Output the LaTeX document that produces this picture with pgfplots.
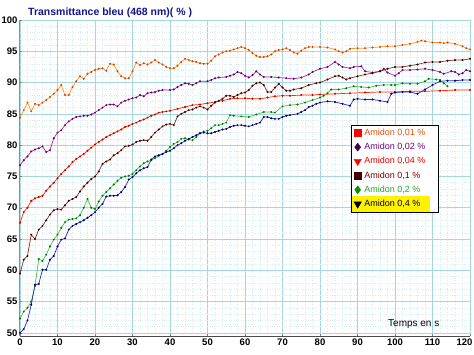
\documentclass[border=0pt]{standalone}
\usepackage{fontspec}
\setmainfont{Liberation Sans}
\usepackage{pgfplots}
\pgfplotsset{compat=1.18}
\definecolor{orL}{RGB}{255,150,40}
\definecolor{orD}{RGB}{215,70,0}
\definecolor{puL}{RGB}{165,40,175}
\definecolor{puD}{RGB}{100,0,100}
\definecolor{reL}{RGB}{255,40,0}
\definecolor{reD}{RGB}{200,0,0}
\definecolor{brL}{RGB}{140,40,20}
\definecolor{brD}{RGB}{60,0,0}
\definecolor{grL}{RGB}{70,195,70}
\definecolor{grD}{RGB}{0,120,0}
\definecolor{blL}{RGB}{40,40,200}
\definecolor{blD}{RGB}{0,0,90}
\definecolor{gridM}{RGB}{165,215,225}
\definecolor{gridm}{RGB}{215,236,242}
\definecolor{titc}{RGB}{20,20,140}
\definecolor{t1}{RGB}{235,80,10}
\definecolor{t2}{RGB}{110,0,130}
\definecolor{t3}{RGB}{240,0,0}
\definecolor{t4}{RGB}{128,0,0}
\definecolor{t5}{RGB}{40,165,40}
\definecolor{m2}{RGB}{70,0,70}
\definecolor{m4}{RGB}{70,0,0}
\definecolor{m5}{RGB}{0,150,0}
\definecolor{m6}{RGB}{0,0,50}
\begin{document}
\begin{tikzpicture}
\useasboundingbox (-20pt,-18pt) rectangle (454pt,336pt);
\begin{axis}[
  scale only axis, width=450pt, height=316pt,
  xmin=0, xmax=120, ymin=49.5, ymax=100,
  axis x line*=bottom, axis y line*=left,
  x axis line style={color=black!70, line width=0.8pt},
  y axis line style={color=black!45, line width=1pt},
  xtick={0,10,...,120}, ytick={50,55,...,100},
  xticklabels={0,10,20,30,40,50,60,70,80,90,100,110,{\hspace*{-11pt}120}},
  minor x tick num=4, minor y tick num=4,
  major tick length=2pt, minor tick length=0pt,
  tick style={color=black!50},
  grid=both,
  major grid style={color=gridM, line width=0.6pt},
  minor grid style={color=gridm, line width=0.4pt, dotted},
  /pgf/number format/assume math mode=true,
  ticklabel style={font=\fontsize{9.5}{10}\selectfont\bfseries},
  xticklabel style={yshift=1pt},
  yticklabel style={xshift=1pt},
  legend cell align=left,
  legend style={at={(0.7375,0.667)}, anchor=north west, draw=none, fill=none,
    font=\fontsize{9}{10}\selectfont, inner xsep=2pt, inner ysep=1.5pt,
    row sep=2.2pt, nodes={inner xsep=3pt}},
  legend image code/.code={\draw[#1] (0.17cm,0cm) -- plot coordinates {(0.17cm,0cm)};},
]
\fill[white] (axis cs:88.5,69.3) rectangle (axis cs:111.5,83.2);
\fill[yellow] (axis cs:88.5,69.3) rectangle (axis cs:109.3,71.8);
\draw[black, line width=0.8pt] (axis cs:88.5,69.3) rectangle (axis cs:111.5,83.2);

% Amidon 0,01 %
\addplot[orL, line width=0.7pt, mark=*, mark size=0.6pt, mark options={draw=orD, fill=orD}, forget plot] coordinates {
(0,84.4)(1,85.6)(2,86.8)(3,85.4)(4,86.6)(5,86.4)(6,86.8)(7,87.2)(8,87.7)(9,88.2)(10,88.8)(11,89.6)(12,88.0)(13,88.0)(14,89.3)(15,90.2)(16,91.0)(17,90.6)(18,91.4)(19,91.7)(20,92.0)(21,92.2)(22,92.3)(23,91.9)(24,93.0)(25,92.9)(26,91.8)(27,91.0)(28,90.7)(29,90.7)(30,91.8)(31,93.2)(32,92.8)(33,93.1)(34,92.9)(35,93.2)(36,93.6)(37,93.2)(38,92.9)(39,92.5)(40,92.3)(41,92.3)(42,92.7)(43,93.3)(44,93.8)(45,93.6)(46,93.4)(47,93.3)(48,93.1)(49,93.0)(50,93.0)(51,93.5)(52,94.2)(53,94.5)(54,94.8)(55,95.0)(56,95.1)(57,95.3)(58,95.5)(59,95.7)(60,95.5)(61,95.2)(62,94.7)(63,94.3)(64,94.1)(65,94.1)(66,94.2)(67,94.5)(68,95.0)(69,95.2)(70,95.3)(71,95.5)(72,95.2)(73,94.8)(74,94.6)(75,95.1)(76,95.5)(77,95.7)(78,95.7)(80,95.7)(82,95.6)(84,95.3)(85,95.0)(86,94.8)(87,95.0)(88,95.4)(90,95.5)(92,95.5)(94,95.6)(96,95.7)(98,95.8)(100,95.8)(102,96.0)(104,96.2)(106,96.5)(107,96.7)(108,96.6)(110,96.4)(112,96.4)(113,96.3)(114,96.4)(116,96.2)(118,95.8)(119,95.5)(120,95.3)};

% Amidon 0,02 %
\addplot[puL, line width=0.7pt, mark=*, mark size=0.6pt, mark options={draw=puD, fill=puD}, forget plot] coordinates {
(0,76.8)(1,77.6)(2,78.2)(3,79.0)(4,79.3)(5,79.5)(6,79.8)(7,78.9)(8,79.2)(9,81.1)(10,82.0)(11,82.4)(12,83.2)(13,83.8)(14,84.2)(15,84.5)(16,84.6)(17,84.7)(18,84.7)(19,84.9)(20,85.2)(21,85.6)(22,86.0)(23,86.4)(24,86.5)(25,86.5)(26,86.2)(27,86.8)(28,87.1)(29,87.3)(30,87.5)(31,87.6)(32,88.0)(33,87.8)(34,88.3)(35,88.4)(36,88.5)(37,88.7)(38,88.8)(40,88.8)(41,88.9)(42,89.3)(43,89.6)(44,89.9)(45,89.8)(46,89.6)(47,89.9)(48,90.2)(50,90.2)(51,90.4)(52,90.7)(53,90.8)(55,90.9)(56,91.1)(57,91.3)(58,91.7)(59,91.5)(60,91.1)(61,90.8)(62,91.2)(63,91.8)(64,91.3)(65,90.9)(67,90.9)(69,90.8)(71,90.7)(73,90.6)(75,90.8)(77,91.3)(78,91.7)(80,92.2)(82,92.5)(84,93.3)(85,92.9)(86,92.5)(88,92.3)(89,92.5)(91,92.6)(92,91.8)(94,91.6)(96,91.8)(97,92.2)(98,91.6)(100,91.1)(101,91.5)(102,92.0)(104,92.0)(106,92.1)(108,92.2)(110,92.0)(112,91.7)(113,91.4)(115,91.8)(116,91.7)(117,91.3)(118,91.5)(119,92.0)(120,91.8)};

% Amidon 0,04 %
\addplot[reL, line width=0.7pt, mark=*, mark size=0.6pt, mark options={draw=reD, fill=reD}, forget plot] coordinates {
(0,67.6)(1,69.3)(2,70.0)(3,71.1)(4,71.5)(5,71.7)(6,71.9)(7,72.7)(8,73.4)(9,74.0)(10,74.7)(11,75.4)(12,76.0)(13,76.6)(14,77.3)(15,77.8)(16,78.2)(17,78.6)(18,79.1)(19,79.6)(20,80.1)(21,80.5)(22,80.9)(23,81.3)(24,81.6)(25,81.9)(26,82.2)(27,82.5)(28,82.9)(29,83.1)(30,83.4)(31,83.6)(32,83.9)(33,84.1)(34,84.4)(35,84.7)(36,84.9)(37,85.2)(38,85.3)(39,85.4)(40,85.5)(42,85.8)(44,86.1)(46,86.4)(48,86.5)(50,86.7)(52,86.9)(54,87.1)(56,87.4)(58,87.5)(60,87.5)(62,87.4)(64,87.4)(66,87.6)(68,87.8)(70,87.9)(72,87.9)(75,88.0)(78,88.0)(80,88.1)(84,88.2)(88,88.3)(92,88.4)(96,88.5)(100,88.5)(104,88.6)(108,88.6)(112,88.7)(116,88.8)(120,88.8)};

% Amidon 0,1 %
\addplot[brL, line width=0.7pt, mark=*, mark size=0.6pt, mark options={draw=brD, fill=brD}, forget plot] coordinates {
(0,59.5)(1,61.7)(2,62.3)(3,65.7)(4,65.0)(5,66.5)(6,67.1)(7,68.0)(8,68.9)(9,69.6)(10,69.8)(11,69.7)(12,70.4)(13,71.1)(14,71.4)(15,71.7)(16,72.6)(17,73.4)(18,74.0)(19,74.6)(20,75.0)(21,75.8)(22,77.0)(23,77.4)(24,77.7)(25,78.4)(26,78.7)(27,79.2)(28,79.8)(29,79.9)(30,80.1)(31,80.5)(32,80.7)(33,80.8)(34,80.7)(35,81.3)(36,82.0)(37,82.5)(38,83.0)(39,83.3)(40,83.4)(41,83.2)(42,84.6)(43,85.0)(44,85.3)(45,85.6)(46,85.7)(47,86.0)(48,86.2)(49,86.0)(50,85.7)(51,86.3)(52,86.8)(53,87.1)(54,87.4)(55,87.9)(56,87.9)(57,87.7)(58,88.0)(59,88.3)(60,88.4)(61,88.8)(62,89.5)(63,89.9)(64,90.0)(65,89.6)(66,88.5)(67,88.5)(68,89.2)(69,89.8)(70,89.2)(71,88.7)(72,88.7)(73,88.9)(75,89.1)(77,89.6)(79,89.9)(80,90.0)(82,90.5)(84,91.0)(85,91.1)(86,90.8)(87,90.5)(88,90.7)(90,91.0)(92,91.3)(94,91.5)(96,91.8)(98,92.2)(100,92.5)(102,92.5)(104,92.7)(106,92.9)(108,93.2)(110,93.3)(112,93.3)(114,93.5)(116,93.6)(118,93.6)(120,93.8)};

% Amidon 0,2 %
\addplot[grL, line width=0.7pt, mark=*, mark size=0.6pt, mark options={draw=grD, fill=grD}, forget plot] coordinates {
(0,52.3)(1,53.4)(2,54.0)(3,55.0)(4,57.5)(5,61.8)(6,61.5)(7,62.5)(8,63.8)(9,64.9)(10,65.7)(11,66.8)(12,67.7)(13,68.1)(14,68.2)(15,68.3)(16,68.8)(17,70.0)(18,71.4)(19,70.0)(20,69.8)(21,71.0)(22,71.9)(23,72.5)(24,73.1)(25,73.7)(26,74.3)(27,74.8)(28,75.0)(29,75.1)(30,75.4)(31,76.0)(32,76.6)(33,77.1)(34,77.4)(35,77.6)(36,77.9)(37,78.3)(38,78.6)(39,79.1)(40,79.7)(41,80.2)(42,80.5)(43,81.0)(44,81.1)(45,80.9)(46,80.8)(47,81.3)(48,81.9)(49,82.2)(50,82.3)(51,82.7)(52,83.2)(53,83.2)(54,83.4)(55,83.6)(56,84.8)(57,84.7)(59,84.6)(61,84.5)(63,84.9)(65,85.3)(67,85.3)(68,85.2)(70,86.2)(72,86.4)(74,86.5)(76,86.8)(78,87.2)(80,87.6)(81,87.9)(82,88.3)(83,88.9)(85,88.9)(87,89.1)(89,89.4)(91,89.3)(93,89.2)(95,89.5)(97,89.6)(99,89.6)(100,89.6)(102,89.9)(104,89.8)(106,89.8)(108,90.2)(109,90.6)(111,90.5)(112,90.4)(113,89.9)(114,89.4)};

% Amidon 0,4 %
\addplot[blL, line width=0.7pt, mark=*, mark size=0.6pt, mark options={draw=blD, fill=blD}, forget plot] coordinates {
(0,50.0)(1,50.6)(2,52.0)(3,54.5)(4,57.7)(5,57.8)(6,60.1)(7,60.1)(8,61.7)(9,62.3)(10,63.8)(11,64.9)(12,65.1)(13,66.5)(14,67.1)(15,67.4)(16,67.7)(17,68.0)(18,68.4)(19,68.8)(20,69.3)(21,70.0)(22,70.6)(23,71.8)(24,71.9)(25,71.9)(26,72.0)(27,72.5)(28,73.3)(29,74.5)(30,74.9)(31,75.5)(32,76.0)(33,76.3)(34,76.5)(35,77.7)(36,78.2)(37,78.4)(38,78.6)(39,78.9)(40,79.1)(41,79.5)(42,80.0)(43,80.3)(44,80.7)(45,81.0)(46,81.3)(47,81.6)(48,81.9)(49,82.0)(50,81.9)(51,81.9)(52,82.1)(53,82.3)(54,82.5)(55,82.6)(56,82.9)(57,83.1)(58,83.2)(59,83.2)(60,83.1)(61,83.0)(62,83.2)(63,83.4)(64,83.6)(65,84.5)(66,84.5)(67,84.3)(68,84.2)(69,84.2)(70,84.5)(71,84.7)(72,84.8)(74,85.0)(75,85.3)(76,85.6)(77,86.1)(78,86.3)(79,86.6)(80,86.8)(82,87.0)(84,86.9)(86,86.6)(88,86.3)(89,87.3)(90,87.4)(92,87.3)(94,87.3)(96,87.1)(98,86.9)(99,88.2)(100,88.4)(102,88.5)(104,88.5)(106,88.2)(108,88.9)(110,89.6)(112,90.2)(114,90.3)(116,90.3)(118,90.4)(120,90.4)};

\addlegendimage{only marks, mark=square*, mark size=3.4pt, color=red}
\addlegendentry{\textcolor{t1}{Amidon 0,01 \%}}
\addlegendimage{only marks, mark=diamond*, mark size=4pt, color=m2}
\addlegendentry{\textcolor{t2}{Amidon 0,02 \%}}
\addlegendimage{only marks, mark=triangle*, mark size=4.2pt, color=red, mark options={rotate=180}}
\addlegendentry{\textcolor{t3}{Amidon 0,04 \%}}
\addlegendimage{only marks, mark=square*, mark size=3.4pt, color=m4}
\addlegendentry{\textcolor{t4}{Amidon 0,1 \%}}
\addlegendimage{only marks, mark=diamond*, mark size=4pt, color=m5}
\addlegendentry{\textcolor{t5}{Amidon 0,2 \%}}
\addlegendimage{only marks, mark=triangle*, mark size=4.2pt, color=m6, mark options={rotate=180}}
\addlegendentry{Amidon 0,4 \%}
\end{axis}
\node[anchor=west, font=\fontsize{10.5}{12}\selectfont\bfseries, text=titc, inner sep=0pt] at (8pt,323.5pt) {Transmittance bleu (468 nm)( \% )};
\node[anchor=west, font=\fontsize{10}{12}\selectfont, inner sep=0pt] at (368pt,12pt) {Temps en s};
\end{tikzpicture}
\end{document}
